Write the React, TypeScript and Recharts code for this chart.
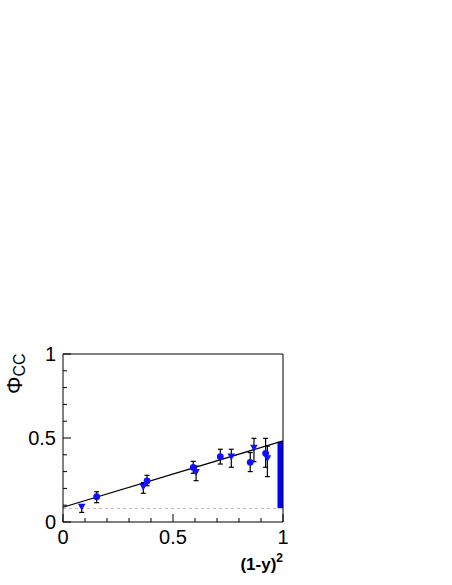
import {
  ComposedChart, Scatter, ErrorBar, XAxis, YAxis, ReferenceLine, ReferenceArea, Label
} from 'recharts';

// blue circles
const circX = [0.153, 0.382, 0.592, 0.715, 0.851, 0.921];
const circY = [0.151, 0.244, 0.325, 0.389, 0.355, 0.409];
const circLo = [0.036, 0.028, 0.035, 0.044, 0.055, 0.083];
const circHi = [0.029, 0.034, 0.036, 0.044, 0.058, 0.089];

// blue down triangles
const triX = [0.085, 0.365, 0.605, 0.765, 0.868, 0.929];
const triY = [0.090, 0.210, 0.298, 0.389, 0.442, 0.379];
const triLo = [0.033, 0.039, 0.052, 0.063, 0.083, 0.109];
const triHi = [0.014, 0.024, 0.035, 0.044, 0.056, 0.073];

// fit line end points, baseline, band
const fitX = [0, 1];
const fitY = [0.088, 0.483];
const baseline = 0.08;
const bandX = [0.975, 1];
const bandY = [0.082, 0.478];

const ticks = [0, 0.1, 0.2, 0.3, 0.4, 0.5, 0.6, 0.7, 0.8, 0.9, 1];
const majorLabels: Record<string, string> = { '0': '0', '0.5': '0.5', '1': '1' };

const FONT = 'Liberation Sans, Arial, Helvetica, sans-serif';

const circData = circX.map((x, i) => ({ x, y: circY[i], err: [circLo[i], circHi[i]] }));
const triData = triX.map((x, i) => ({ x, y: triY[i], err: [triLo[i], triHi[i]] }));

const isMajor = (v: number) => majorLabels[String(v)] !== undefined;

function BottomTick({ x, y, payload }: any) {
  const v = payload.value;
  const len = isMajor(v) ? 8 : 4;
  return (
    <g>
      <line x1={x} y1={y} x2={x} y2={y - len} stroke="#000" />
      {isMajor(v) && (
        <text x={x} y={y + 22} textAnchor="middle" fontSize={20} fontFamily={FONT} fill="#000">
          {majorLabels[String(v)]}
        </text>
      )}
    </g>
  );
}

function LeftTick({ x, y, payload }: any) {
  const v = payload.value;
  const len = isMajor(v) ? 8 : 4;
  return (
    <g>
      <line x1={x} y1={y} x2={x + len} y2={y} stroke="#000" />
      {isMajor(v) && (
        <text x={x - 7} y={y + 7} textAnchor="end" fontSize={20} fontFamily={FONT} fill="#000">
          {majorLabels[String(v)]}
        </text>
      )}
    </g>
  );
}

function TopTick({ x, y, payload }: any) {
  const len = isMajor(payload.value) ? 8 : 4;
  return <line x1={x} y1={y} x2={x} y2={y + len} stroke="#000" />;
}

function RightTick({ x, y, payload }: any) {
  const len = isMajor(payload.value) ? 8 : 4;
  return <line x1={x} y1={y} x2={x - len} y2={y} stroke="#000" />;
}

function Circle({ cx, cy }: any) {
  return <circle cx={cx} cy={cy} r={3.4} fill="#1010ff" />;
}

function Triangle({ cx, cy }: any) {
  const s = 3.8;
  return (
    <polygon
      points={`${cx - s},${cy - s * 0.8} ${cx + s},${cy - s * 0.8} ${cx},${cy + s}`}
      fill="#1010ff"
    />
  );
}

function YTitle() {
  return (
    <text
      x={22}
      y={394}
      transform="rotate(-90, 22, 394)"
      fontSize={22}
      fontFamily={FONT}
      fill="#000"
    >
      Φ<tspan fontSize={16} dy={3}>CC</tspan>
    </text>
  );
}

function XTitle() {
  return (
    <text x={283} y={570} textAnchor="end" fontSize={17} fontWeight="bold" fontFamily={FONT} fill="#000">
      (1-y)<tspan fontSize={12} dy={-8}>2</tspan>
    </text>
  );
}

export default function App() {
  return (
    <div style={{ position: 'absolute', left: 0, top: 0, width: 452, height: 585, background: '#fff' }}>
      <ComposedChart
        width={452}
        height={585}
        margin={{ top: 353, right: 168, bottom: 33, left: 23 }}
      >
        <XAxis
          xAxisId="b"
          type="number"
          dataKey="x"
          domain={[0, 1]}
          ticks={ticks}
          interval={0}
          height={30}
          tickSize={0}
          tickMargin={0}
          tickLine={false}
          axisLine={{ stroke: '#000' }}
          tick={<BottomTick />}
        >
          <Label content={<XTitle />} />
        </XAxis>
        <XAxis
          xAxisId="t"
          orientation="top"
          type="number"
          domain={[0, 1]}
          ticks={ticks}
          interval={0}
          height={1}
          tickSize={0}
          tickMargin={0}
          tickLine={false}
          axisLine={{ stroke: '#000' }}
          tick={<TopTick />}
        />
        <YAxis
          yAxisId="l"
          type="number"
          dataKey="y"
          domain={[0, 1]}
          ticks={ticks}
          interval={0}
          width={40}
          tickSize={0}
          tickMargin={0}
          tickLine={false}
          axisLine={{ stroke: '#000' }}
          tick={<LeftTick />}
        >
          <Label content={<YTitle />} />
        </YAxis>
        <YAxis
          yAxisId="r"
          orientation="right"
          type="number"
          domain={[0, 1]}
          ticks={ticks}
          interval={0}
          width={1}
          tickSize={0}
          tickMargin={0}
          tickLine={false}
          axisLine={{ stroke: '#000' }}
          tick={<RightTick />}
        />
        <ReferenceLine
          xAxisId="b"
          yAxisId="l"
          segment={[{ x: 0, y: baseline }, { x: bandX[0], y: baseline }]}
          stroke="#bbb"
          strokeDasharray="3 3"
        />
        <ReferenceLine
          xAxisId="b"
          yAxisId="l"
          segment={[{ x: fitX[0], y: fitY[0] }, { x: fitX[1], y: fitY[1] }]}
          stroke="#000"
          strokeWidth={1.2}
        />
        <ReferenceArea
          xAxisId="b"
          yAxisId="l"
          x1={bandX[0]}
          x2={bandX[1]}
          y1={bandY[0]}
          y2={bandY[1]}
          fill="#0000ff"
          fillOpacity={1}
          stroke="none"
        />
        <Scatter
          xAxisId="b"
          yAxisId="l"
          data={circData}
          dataKey="y"
          shape={<Circle />}
          isAnimationActive={false}
        >
          <ErrorBar dataKey="err" direction="y" width={2.5} stroke="#000" strokeWidth={1.2} isAnimationActive={false} />
        </Scatter>
        <Scatter
          xAxisId="b"
          yAxisId="l"
          data={triData}
          dataKey="y"
          shape={<Triangle />}
          isAnimationActive={false}
        >
          <ErrorBar dataKey="err" direction="y" width={2.5} stroke="#000" strokeWidth={1.2} isAnimationActive={false} />
        </Scatter>
      </ComposedChart>
    </div>
  );
}
